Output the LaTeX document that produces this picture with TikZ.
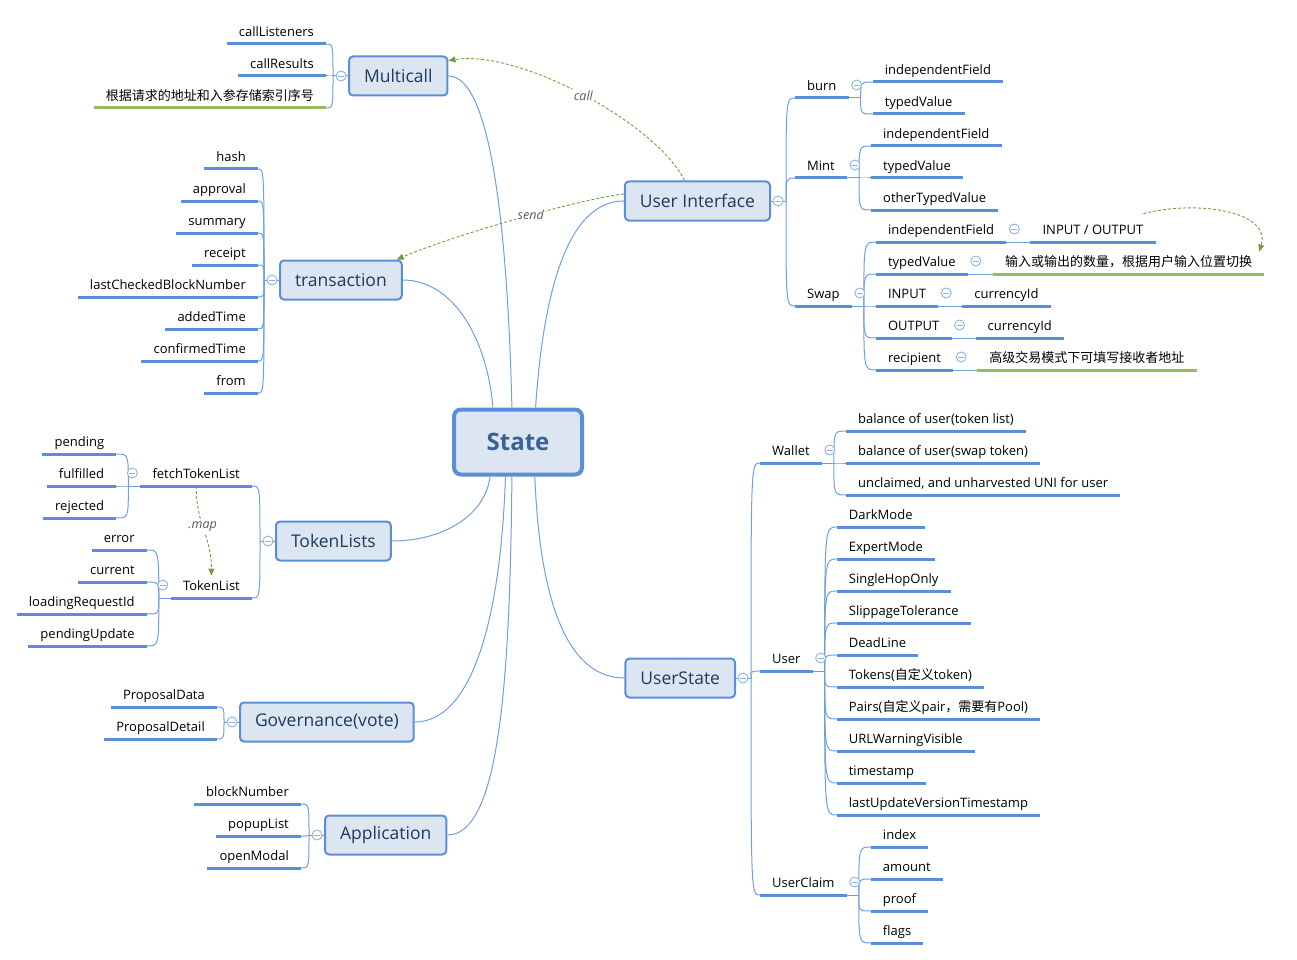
\documentclass[tikz,border=0pt]{standalone}
\usepackage{fontspec}
\setmainfont{Open Sans}
\newfontfamily\cjkfont{Noto Sans CJK SC}
\newcommand\zh[1]{{\cjkfont #1}}
\usetikzlibrary{arrows.meta}

\definecolor{barblue}{HTML}{5A8ED8}
\definecolor{linkblue}{HTML}{6E9FE0}
\definecolor{topicfill}{HTML}{DCE6F2}
\definecolor{topictext}{HTML}{1F3A5C}
\definecolor{roottext}{HTML}{3A6296}
\definecolor{notegreen}{HTML}{9BBB59}
\definecolor{relgreen}{HTML}{7A9A40}
\definecolor{foldblue}{HTML}{8DB3E2}

\tikzset{
    root/.style={draw=barblue, line width=4, fill=topicfill, rounded corners=7,
        minimum width=128, minimum height=65, text=roottext,
        font=\bfseries\fontsize{24}{28}\selectfont},
    topic/.style={draw=barblue, line width=2, fill=topicfill, rounded corners=4,
        minimum height=39, inner xsep=15, text=topictext,
        font=\fontsize{17.5}{20}\selectfont},
    leaf/.style={inner xsep=12, inner ysep=4.5, text height=10, text depth=3,
        font=\fontsize{13}{15}\selectfont, text=black,
        append after command={(\tikzlastnode.south west) edge[draw=#1, line width=3] (\tikzlastnode.south east)}},
    leaf/.default=barblue,
    fold/.style={circle, draw=foldblue, fill=white, line width=0.9, minimum size=10, inner sep=0,
        path picture={\draw[foldblue, line width=0.9] ([xshift=-3]path picture bounding box.center) -- ([xshift=3]path picture bounding box.center);}},
    branch/.style={draw=linkblue, line width=1},
    rel/.style={draw=relgreen, line width=0.9, dash pattern=on 3pt off 2pt, -{Triangle[length=7pt,width=6pt]}},
    rellabel/.style={fill=white, inner sep=1.5, text=black!65, font=\itshape\fontsize{12.5}{14}\selectfont}
}

\begin{document}
\begin{tikzpicture}[x=1pt,y=-1pt]
    \useasboundingbox (0,0) rectangle (1297,960);
    % Draw the central topic and the main topics
    \node[root] (st) at (518,442) {State};
    \node[topic, anchor=west] (mc) at (348,76) {Multicall};
    \node[topic, anchor=west] (tx) at (279,280) {transaction};
    \node[topic, anchor=west] (tls) at (275,541) {TokenLists};
    \node[topic, anchor=west] (gov) at (239,722) {Governance(vote)};
    \node[topic, anchor=west] (app) at (324,835) {Application};
    \node[topic, anchor=east] (ui) at (771,201) {User Interface};
    \node[topic, anchor=east] (us) at (736,678) {UserState};
    % Draw the links from the central topic
    \draw[branch] (st.100) .. controls +(-4,-160) and +(45,0) .. (mc.east);
    \draw[branch] (st.126) .. controls +(-6,-70) and +(50,0) .. (tx.east);
    \draw[branch] (st.231) .. controls +(-5,40) and +(50,0) .. (tls.east);
    \draw[branch] (st.250) .. controls +(-5,150) and +(55,0) .. (gov.east);
    \draw[branch] (st.260) .. controls +(-2,220) and +(50,0) .. (app.east);
    \draw[branch] (st.63) .. controls +(8,-120) and +(-55,0) .. (ui.west);
    \draw[branch] (st.296) .. controls +(5,130) and +(-55,0) .. (us.west);

    % Multicall
    \coordinate (mcj) at ([xshift=-15]mc.west);
    \foreach \t [count=\i] in {callListeners,callResults}
        \node[leaf, anchor=south east] (mc\i) at (326,{12+32*\i}) {\t};
    \node[leaf=notegreen, anchor=south east] (mc3) at (326,108) {\zh{根据请求的地址和入参存储索引序号}};
    \draw[branch] (mc.west) -- (mcj);
    \foreach \i in {1,2,3}
        \draw[branch] (mcj) .. controls (mcj |- mc\i.south east) .. (mc\i.south east);

    % transaction
    \coordinate (txj) at ([xshift=-15]tx.west);
    \foreach \t [count=\i] in {hash,approval,summary,receipt,lastCheckedBlockNumber,addedTime,confirmedTime,from}
        \node[leaf, anchor=south east] (tx\i) at (258,{137+32*\i}) {\t};
    \draw[branch] (tx.west) -- (txj);
    \foreach \i in {1,...,8}
        \draw[branch] (txj) .. controls (txj |- tx\i.south east) .. (tx\i.south east);

    % TokenLists
    \coordinate (tlsj) at ([xshift=-15]tls.west);
    \node[leaf, anchor=south east] (ftl) at (252,486) {fetchTokenList};
    \node[leaf, anchor=south east] (tkl) at (252,598) {TokenList};
    \draw[branch] (tls.west) -- (tlsj);
    \foreach \n in {ftl,tkl}
        \draw[branch] (tlsj) .. controls (tlsj |- \n.south east) .. (\n.south east);
    \coordinate (ftlj) at ([xshift=-12]ftl.south west);
    \coordinate (ftlk) at ([xshift=-24]ftl.south west);
    \foreach \t [count=\i] in {pending,fulfilled,rejected}
        \node[leaf, anchor=south east] (ftl\i) at ([yshift={64-32*\i}]ftlk) {\t};
    \draw[branch] (ftl.south west) -- (ftlj);
    \foreach \i in {1,2,3}
        \draw[branch] (ftlj) .. controls (ftlj |- ftl\i.south east) .. (ftl\i.south east);
    \coordinate (tklj) at ([xshift=-12]tkl.south west);
    \coordinate (tklk) at ([xshift=-24]tkl.south west);
    \foreach \t [count=\i] in {error,current,loadingRequestId,pendingUpdate}
        \node[leaf, anchor=south east] (tkl\i) at ([yshift={80-32*\i}]tklk) {\t};
    \draw[branch] (tkl.south west) -- (tklj);
    \foreach \i in {1,...,4}
        \draw[branch] (tklj) .. controls (tklj |- tkl\i.south east) .. (tkl\i.south east);

    % Governance
    \coordinate (govj) at ([xshift=-15]gov.west);
    \node[leaf, anchor=south east] (gov1) at (217,707) {ProposalData};
    \node[leaf, anchor=south east] (gov2) at (217,739) {ProposalDetail};
    \draw[branch] (gov.west) -- (govj);
    \foreach \i in {1,2}
        \draw[branch] (govj) .. controls (govj |- gov\i.south east) .. (gov\i.south east);

    % Application
    \coordinate (appj) at ([xshift=-15]app.west);
    \foreach \t [count=\i] in {blockNumber,popupList,openModal}
        \node[leaf, anchor=south east] (app\i) at (301,{772+32*\i}) {\t};
    \draw[branch] (app.west) -- (appj);
    \foreach \i in {1,2,3}
        \draw[branch] (appj) .. controls (appj |- app\i.south east) .. (app\i.south east);

    % User Interface
    \coordinate (uij) at ([xshift=15]ui.east);
    \node[leaf, anchor=south west] (burn) at (795,98) {burn};
    \node[leaf, anchor=south west] (mint) at (795,178) {Mint};
    \node[leaf, anchor=south west] (swap) at (795,306) {Swap};
    \draw[branch] (ui.east) -- (uij);
    \foreach \n in {burn,mint,swap}
        \draw[branch] (uij) .. controls (uij |- \n.south west) .. (\n.south west);
    \coordinate (burnj) at ([xshift=12]burn.south east);
    \coordinate (burnk) at ([xshift=24]burn.south east);
    \node[leaf, anchor=south west] (burn1) at ([yshift=16]burnk) {independentField};
    \node[leaf, anchor=south west] (burn2) at ([yshift=-16]burnk) {typedValue};
    \draw[branch] (burn.south east) -- (burnj);
    \foreach \i in {1,2}
        \draw[branch] (burnj) .. controls (burnj |- burn\i.south west) .. (burn\i.south west);
    \coordinate (mintj) at ([xshift=12]mint.south east);
    \coordinate (mintk) at ([xshift=24]mint.south east);
    \foreach \t [count=\i] in {independentField,typedValue,otherTypedValue}
        \node[leaf, anchor=south west] (mint\i) at ([yshift={64-32*\i}]mintk) {\t};
    \draw[branch] (mint.south east) -- (mintj);
    \foreach \i in {1,2,3}
        \draw[branch] (mintj) .. controls (mintj |- mint\i.south west) .. (mint\i.south west);
    \coordinate (swapj) at ([xshift=12]swap.south east);
    \coordinate (swapk) at ([xshift=24]swap.south east);
    \foreach \t [count=\i] in {independentField,typedValue,INPUT,OUTPUT,recipient}
        \node[leaf, anchor=south west] (sw\i) at ([yshift={96-32*\i}]swapk) {\t};
    \draw[branch] (swap.south east) -- (swapj);
    \foreach \i in {1,...,5}
        \draw[branch] (swapj) .. controls (swapj |- sw\i.south west) .. (sw\i.south west);
    \node[leaf, anchor=south west] (sw1a) at ([xshift=24]sw1.south east) {INPUT / OUTPUT};
    \node[leaf=notegreen, anchor=south west] (sw2a) at ([xshift=25]sw2.south east) {\zh{输入或输出的数量，根据用户输入位置切换}};
    \node[leaf, anchor=south west] (sw3a) at ([xshift=24]sw3.south east) {currencyId};
    \node[leaf, anchor=south west] (sw4a) at ([xshift=24]sw4.south east) {currencyId};
    \node[leaf=notegreen, anchor=south west] (sw5a) at ([xshift=24]sw5.south east) {\zh{高级交易模式下可填写接收者地址}};
    \foreach \i in {1,...,5}
        \draw[branch] (sw\i.south east) -- (sw\i a.south west);

    % UserState
    \coordinate (usj) at ([xshift=15]us.east);
    \node[leaf, anchor=south west] (wal) at (760,463) {Wallet};
    \node[leaf, anchor=south west] (usr) at (760,671) {User};
    \node[leaf, anchor=south west] (clm) at (760,895) {UserClaim};
    \draw[branch] (us.east) -- (usj);
    \foreach \n in {wal,usr,clm}
        \draw[branch] (usj) .. controls (usj |- \n.south west) .. (\n.south west);
    \coordinate (walj) at ([xshift=12]wal.south east);
    \coordinate (walk) at ([xshift=24]wal.south east);
    \foreach \t [count=\i] in {balance of user(token list),balance of user(swap token),{unclaimed, and unharvested UNI for user}}
        \node[leaf, anchor=south west] (wal\i) at ([yshift={64-32*\i}]walk) {\t};
    \draw[branch] (wal.south east) -- (walj);
    \foreach \i in {1,2,3}
        \draw[branch] (walj) .. controls (walj |- wal\i.south west) .. (wal\i.south west);
    \coordinate (usrj) at ([xshift=12]usr.south east);
    \coordinate (usrk) at ([xshift=24]usr.south east);
    \foreach \t [count=\i] in {DarkMode,ExpertMode,SingleHopOnly,SlippageTolerance,DeadLine,Tokens(\zh{自定义}token),Pairs(\zh{自定义}pair\zh{，需要有}Pool),URLWarningVisible,timestamp,lastUpdateVersionTimestamp}
        \node[leaf, anchor=south west] (usr\i) at ([yshift={176-32*\i}]usrk) {\t};
    \draw[branch] (usr.south east) -- (usrj);
    \foreach \i in {1,...,10}
        \draw[branch] (usrj) .. controls (usrj |- usr\i.south west) .. (usr\i.south west);
    \coordinate (clmj) at ([xshift=12]clm.south east);
    \coordinate (clmk) at ([xshift=24]clm.south east);
    \foreach \t [count=\i] in {index,amount,proof,flags}
        \node[leaf, anchor=south west] (clm\i) at ([yshift={80-32*\i}]clmk) {\t};
    \draw[branch] (clm.south east) -- (clmj);
    \foreach \i in {1,...,4}
        \draw[branch] (clmj) .. controls (clmj |- clm\i.south west) .. (clm\i.south west);

    % Draw the fold buttons
    \node[fold] (mcf) at ([xshift=-7]mc.west) {};
    \node[fold] (txf) at ([xshift=-7]tx.west) {};
    \node[fold] (tlsf) at ([xshift=-7]tls.west) {};
    \node[fold] (govf) at ([xshift=-7]gov.west) {};
    \node[fold] (appf) at ([xshift=-7]app.west) {};
    \node[fold] (uif) at ([xshift=7]ui.east) {};
    \node[fold] (usf) at ([xshift=7]us.east) {};
    \foreach \n in {burn,mint,swap,sw1,sw2,sw3,sw4,sw5,wal,usr,clm}
        \node[fold] (\n f) at ([xshift=8,yshift=13]\n.south east) {};
    \foreach \n in {ftl,tkl}
        \node[fold] (\n f) at ([xshift=-8,yshift=13]\n.south west) {};

    % Draw the relations
    \draw[rel] ([xshift=-13]ui.north) .. controls +(-27,-56) and +(72,-11) .. ([yshift=-5]mc.north east)
        node[rellabel, pos=0.5] {call};
    \draw[rel] ([yshift=7]ui.west) .. controls +(-39,4) and +(58,-25) .. ([xshift=-6]tx.north east)
        node[rellabel, pos=0.45] {send};
    \draw[rel] ([xshift=-12,yshift=6]sw1a.north east) .. controls +(55,-14) and +(12,-40) .. ([xshift=-5]sw2a.north east);
    \draw[rel] (ftl.south) .. controls +(0,40) and +(0,-40) .. (tkl.north)
        node[rellabel, pos=0.45] {.map};
\end{tikzpicture}
\end{document}
